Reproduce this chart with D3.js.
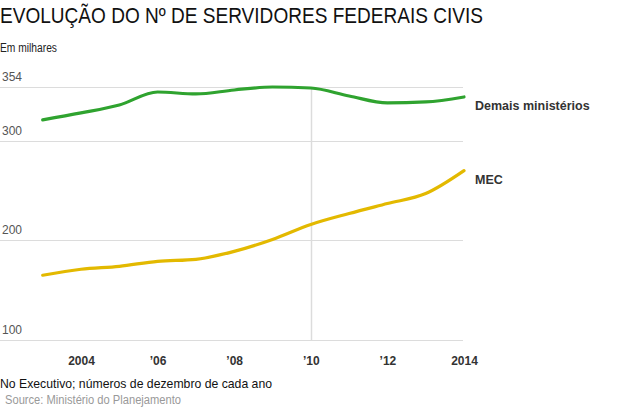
<!DOCTYPE html>
<html>
<head>
<meta charset="utf-8">
<script src="https://cdn.jsdelivr.net/npm/d3@7/dist/d3.min.js"></script>
<style>
  html, body { margin: 0; padding: 0; background: #fff; }
  svg { display: block; font-family: "Liberation Sans", Arial, Helvetica, sans-serif; }
</style>
</head>
<body>
<svg id="chart" width="620" height="413"></svg>
<script>
const years = [2003, 2004, 2005, 2006, 2007, 2008, 2009, 2010, 2011, 2012, 2013, 2014];
const demais = [321, 328, 336, 349, 347, 351, 354, 353, 345, 338, 339, 344];
const mec = [165, 171, 174, 179, 181, 189, 201, 216, 227, 237, 247, 270];
const yTicks = [100, 200, 300, 354];
const xTicks = [2004, 2006, 2008, 2010, 2012, 2014];
const xTickLabels = ["2004", "\u201906", "\u201908", "\u201910", "\u201912", "2014"];
const seriesNames = ["Demais ministérios", "MEC"];

const svg = d3.select("#chart");
const x = d3.scaleLinear().domain([2004, 2014]).range([81, 464]);
const y = d3.scaleLinear().domain([100, 354]).range([340, 87]);

// Title and subtitles
svg.append("text").attr("x", 0).attr("y", 23).attr("font-size", 21.5).attr("fill", "#111")
  .attr("textLength", 483).attr("lengthAdjust", "spacingAndGlyphs")
  .text("EVOLUÇÃO DO Nº DE SERVIDORES FEDERAIS CIVIS");
svg.append("text").attr("x", 0).attr("y", 52).attr("font-size", 12).attr("fill", "#222")
  .attr("textLength", 57).attr("lengthAdjust", "spacingAndGlyphs")
  .text("Em milhares");

// Gridlines
const grid = svg.append("g");
grid.selectAll("line").data(yTicks).join("line")
  .attr("x1", 0).attr("x2", 463)
  .attr("y1", d => Math.round(y(d)) + 0.5).attr("y2", d => Math.round(y(d)) + 0.5)
  .attr("stroke", "#dcdcdc").attr("stroke-width", 1);
grid.selectAll("text").data(yTicks).join("text")
  .attr("x", 2).attr("y", d => Math.round(y(d)) - 6)
  .attr("font-size", 12).attr("fill", "#555")
  .text(d => d);

// Vertical marker at 2010
svg.append("line")
  .attr("x1", Math.round(x(2010)) + 0.5).attr("x2", Math.round(x(2010)) + 0.5)
  .attr("y1", y(354)).attr("y2", y(100))
  .attr("stroke", "#dcdcdc").attr("stroke-width", 1.5);

// X axis labels
const xAxis = d3.axisBottom(x).tickValues(xTicks).tickSize(0).tickPadding(0)
  .tickFormat((d, i) => xTickLabels[i]);
const gx = svg.append("g").attr("transform", "translate(0,356)").call(xAxis);
gx.select(".domain").remove();
gx.selectAll("text").attr("font-size", 12).attr("font-weight", "bold").attr("fill", "#333")
  .attr("font-family", "Liberation Sans, Arial, sans-serif");

// Lines
const line = d3.line().x((d, i) => x(years[i])).y(d => y(d)).curve(d3.curveMonotoneX);
svg.append("path").datum(demais).attr("d", line)
  .attr("fill", "none").attr("stroke", "#2fa32f").attr("stroke-width", 3.2)
  .attr("stroke-linecap", "round");
svg.append("path").datum(mec).attr("d", line)
  .attr("fill", "none").attr("stroke", "#e3b900").attr("stroke-width", 3.2)
  .attr("stroke-linecap", "round");

// Series labels
svg.append("text").attr("x", 475).attr("y", 110).attr("font-size", 12.5).attr("font-weight", "bold")
  .attr("fill", "#333").text(seriesNames[0]);
svg.append("text").attr("x", 475).attr("y", 184).attr("font-size", 12.5).attr("font-weight", "bold")
  .attr("fill", "#333").text(seriesNames[1]);

// Footer
svg.append("text").attr("x", 0).attr("y", 388).attr("font-size", 13).attr("fill", "#111")
  .attr("textLength", 272).attr("lengthAdjust", "spacingAndGlyphs")
  .text("No Executivo; números de dezembro de cada ano");
svg.append("text").attr("x", 5).attr("y", 404).attr("font-size", 12).attr("fill", "#999")
  .attr("textLength", 176).attr("lengthAdjust", "spacingAndGlyphs")
  .text("Source: Ministério do Planejamento");
</script>
</body>
</html>
